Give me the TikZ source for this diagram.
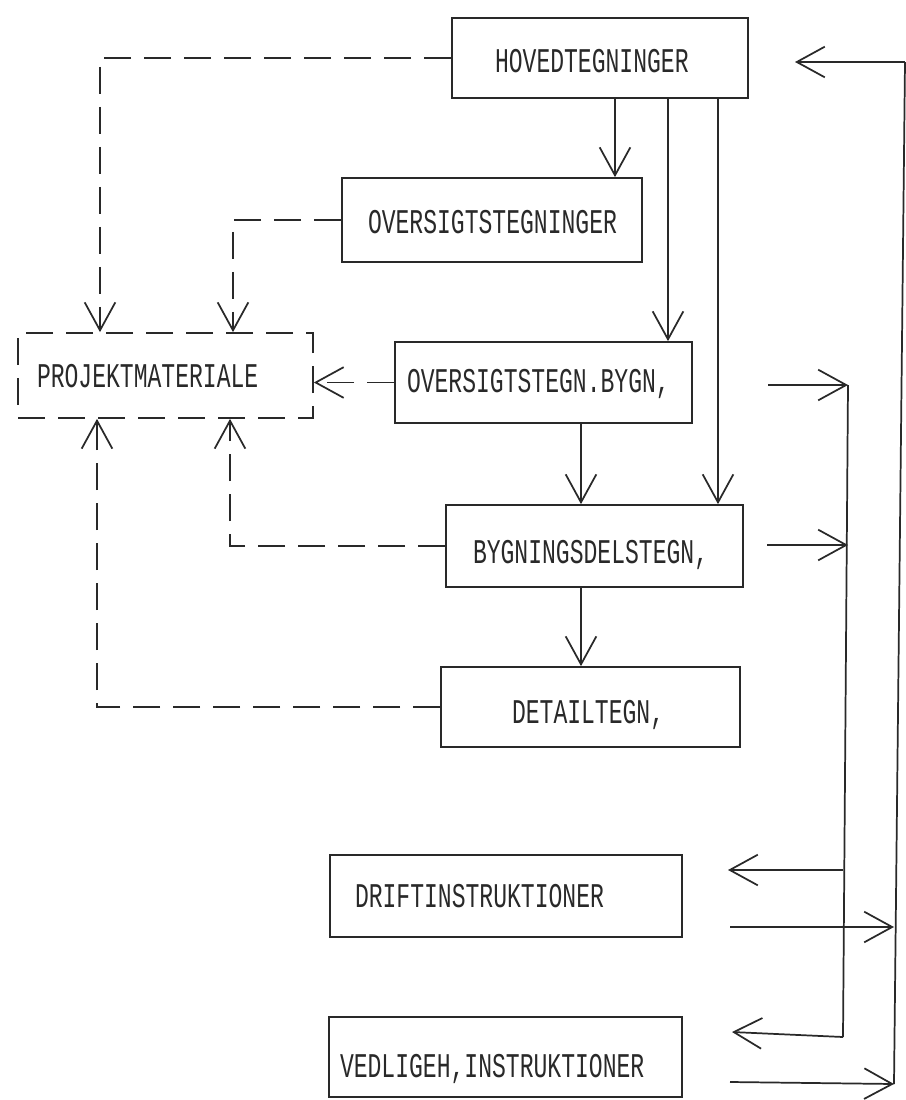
\documentclass[tikz,border=0pt]{standalone}
\usepackage{fontspec}
\newfontfamily\lettering{Liberation Mono}[FakeStretch=0.665]
\usetikzlibrary{arrows.meta}
\definecolor{ink}{gray}{0.16}
\begin{document}
\begin{tikzpicture}[x=0.75pt,y=-0.75pt,
  ln/.style={draw=ink, line width=1.3pt},
  box/.style={ln, rectangle, inner xsep=0pt, inner ysep=0pt, align=left,
    font=\lettering\fontsize{26pt}{30pt}\selectfont, text=ink, text depth=0pt},
  dbox/.style={box, dash pattern=on 20pt off 10pt},
  arr/.style={ln, -{Straight Barb[length=21pt,width=23pt]}},
  darr/.style={arr, dash pattern=on 20pt off 10pt},
]
\fill[white] (0,0) rectangle (906,1100);
\useasboundingbox (0,0) rectangle (906,1100);

% boxes
\node[box, text width=222pt, minimum height=60pt, text height=21.6pt] (hoved) at (600,58) {\noindent\hspace*{32.25pt}HOVEDTEGNINGER};
\node[box, text width=225pt, minimum height=63pt, text height=20.1pt] (ovsg) at (492,220) {\noindent\hspace*{19.5pt}OVERSIGTSTEGNINGER};
\node[box, text width=222.75pt, minimum height=60.75pt, text height=15.6pt] (ovby) at (543.5,382.5) {\noindent\hspace*{9pt}OVERSIGTSTEGN.BYGN,};
\node[box, text width=222.75pt, minimum height=61.5pt, text height=26.1pt] (bygn) at (594.5,546) {\noindent\hspace*{20.25pt}BYGNINGSDELSTEGN,};
\node[box, text width=224.25pt, minimum height=60pt, text height=24.6pt] (detail) at (590.5,707) {\noindent\hspace*{53.25pt}DETAILTEGN,};
\node[dbox, text width=221.25pt, minimum height=63.75pt, text height=17.6pt] (proj) at (165.5,375.5) {\noindent\hspace*{14.25pt}PROJEKTMATERIALE};
\node[box, text width=264pt, minimum height=61.5pt, text height=17.1pt] (drift) at (506,896) {\noindent\hspace*{18.75pt}DRIFTINSTRUKTIONER};
\node[box, text width=264.75pt, minimum height=60pt, text height=30.6pt] (vedl) at (505.5,1057) {\noindent\hspace*{8.25pt}VEDLIGEH,INSTRUKTIONER};

% guide coordinates
\coordinate (gA) at (615,0);
\coordinate (gB) at (668,0);
\coordinate (gC) at (718,0);
\coordinate (gD) at (581,0);
\coordinate (gE) at (100,0);
\coordinate (gF) at (233,0);
\coordinate (gG) at (230,0);
\coordinate (gH) at (97,0);

% solid downward flow
\draw[arr] (hoved.south -| gA) -- (ovsg.north -| gA);
\draw[arr] (hoved.south -| gB) -- (ovby.north -| gB);
\draw[arr] (hoved.south -| gC) -- (bygn.north -| gC);
\draw[arr] (ovby.south -| gD) -- (bygn.north -| gD);
\draw[arr] (bygn.south -| gD) -- (detail.north -| gD);

% dashed to project material
\draw[darr] (hoved.west) -| (proj.north -| gE);
\draw[darr] (ovsg.west) -| (proj.north -| gF);
\draw[darr] (ovby.west) -- (ovby.west -| proj.east);
\draw[darr] (bygn.west) -| (proj.south -| gG);
\draw[darr] (detail.west) -| (proj.south -| gH);

% right-hand loop
\coordinate (busT) at (848,385);
\coordinate (busB) at (843,1037);
\coordinate (outT) at (905,62);
\coordinate (outB) at (894,1084);
\coordinate (o1) at (768,385);
\coordinate (o2) at (767,545);
\coordinate (i1) at (728,870);
\coordinate (i2) at (732,1032);
\coordinate (r1) at (730,927);
\coordinate (r2) at (730,1082);
\coordinate (h1) at (795,62);

\draw[ln] (busT) -- (busB);
\draw[arr] (o1) -- (busT);
\draw[arr] (o2) -- (o2 -| busT);
\draw[arr] (i1 -| busB) -- (i1);
\draw[arr] (busB) -- (i2);
\draw[ln] (outB) -- (outT);
\draw[arr] (outT) -- (h1);
\draw[arr] (r1) -- (r1 -| outB);
\draw[arr] (r2) -- (outB);
\end{tikzpicture}
\end{document}
